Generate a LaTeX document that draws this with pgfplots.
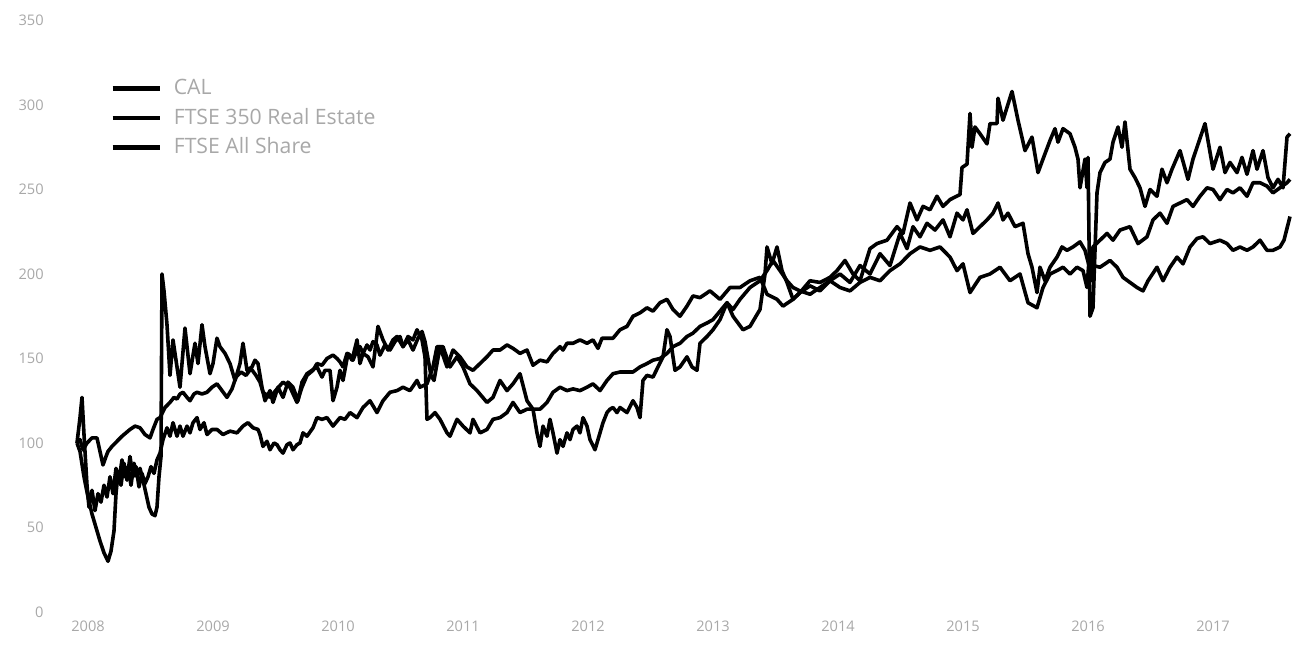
\documentclass[border=0pt]{standalone}
\usepackage{fontspec}
\setmainfont{Open Sans}
\usepackage{pgfplots}
\pgfplotsset{compat=1.18}
\definecolor{lbl}{gray}{0.66}
\begin{document}
\begin{tikzpicture}
\begin{axis}[
  scale only axis, width=616pt, height=295.75pt,
  xmin=2007.776, xmax=2017.632, ymin=0, ymax=350,
  axis line style={draw=none}, major tick length=0pt,
  xtick={2008,2009,2010,2011,2012,2013,2014,2015,2016,2017},
  xticklabels={2008,2009,2010,2011,2012,2013,2014,2015,2016,2017},
  ytick={0,50,100,150,200,250,300,350},
  yticklabels={0,50,100,150,200,250,300,350},
  x tick label style={anchor=north, inner sep=0pt, yshift=-4.5pt, font=\fontsize{7.3}{9}\selectfont, text=lbl},
  y tick label style={anchor=east, inner sep=0pt, xshift=-8pt, font=\fontsize{7.3}{9}\selectfont, text=lbl},
  legend style={at={(0.0406,0.907)}, anchor=north west, draw=none, fill=none, inner sep=0pt,
    font=\fontsize{10.6}{12}\selectfont, text=lbl, row sep=2.25pt,
    nodes={inner sep=1pt, text height=8.5pt, text depth=2pt},
    /tikz/every odd column/.append style={column sep=5pt}},
  legend cell align=left,
  legend image code/.code={\draw[line width=2.2pt, black] (0pt,0pt) -- (23.5pt,0pt);},
  ser/.style={black, mark=none, line width=1.8pt, line join=round},
]
% CAL
\addplot[ser] coordinates {
(2007.912,100)(2007.936,115)(2007.952,127)(2007.968,105)(2007.992,75)(2008.008,62)(2008.032,72)(2008.056,60)
(2008.080,70)(2008.104,65)(2008.128,75)(2008.152,68)(2008.176,80)(2008.2,70)(2008.224,85)(2008.248,78)
(2008.272,90)(2008.296,80)(2008.32,86)(2008.344,75)(2008.368,88)(2008.392,80)(2008.416,85)(2008.44,78)
(2008.464,70)(2008.488,62)(2008.512,58)(2008.536,57)(2008.552,62)(2008.568,80)(2008.584,92)(2008.592,200)
(2008.608,190)(2008.632,170)(2008.656,140)(2008.68,161)(2008.712,145)(2008.736,133)(2008.776,168)(2008.816,141)
(2008.856,159)(2008.88,147)(2008.912,170)(2008.936,157)(2008.976,141)(2009.0,147)(2009.032,162)(2009.056,157)
(2009.096,153)(2009.136,147)(2009.176,137)(2009.216,147)(2009.24,159)(2009.272,143)(2009.312,145)(2009.336,149)
(2009.36,147)(2009.392,133)(2009.416,125)(2009.456,131)(2009.48,124)(2009.52,133)(2009.56,127)(2009.6,136)
(2009.64,133)(2009.68,125)(2009.712,136)(2009.752,141)(2009.792,143)(2009.832,145)(2009.872,139)(2009.896,143)
(2009.936,143)(2009.96,125)(2009.992,133)(2010.016,143)(2010.04,137)(2010.08,153)(2010.112,149)(2010.152,161)
(2010.176,147)(2010.2,153)(2010.24,151)(2010.28,145)(2010.32,169)(2010.36,161)(2010.4,155)(2010.44,161)
(2010.472,163)(2010.52,157)(2010.56,163)(2010.6,161)(2010.632,167)(2010.672,161)(2010.696,151)(2010.712,114)
(2010.736,115)(2010.776,118)(2010.816,114)(2010.872,106)(2010.896,104)(2010.952,114)(2011.0,110)(2011.056,106)
(2011.08,114)(2011.136,106)(2011.192,108)(2011.24,114)(2011.296,115)(2011.352,118)(2011.4,124)(2011.456,118)
(2011.512,120)(2011.56,120)(2011.592,106)(2011.616,98)(2011.64,110)(2011.672,104)(2011.696,114)(2011.72,106)
(2011.752,94)(2011.776,102)(2011.8,98)(2011.832,106)(2011.856,102)(2011.88,108)(2011.912,110)(2011.936,106)
(2011.96,115)(2011.992,110)(2012.016,102)(2012.056,96)(2012.096,106)(2012.12,112)(2012.152,118)(2012.176,120)
(2012.2,121)(2012.232,118)(2012.256,121)(2012.312,118)(2012.36,125)(2012.392,121)(2012.416,115)(2012.44,137)
(2012.472,140)(2012.52,139)(2012.56,145)(2012.6,151)(2012.632,167)(2012.656,163)(2012.696,143)(2012.736,145)
(2012.792,151)(2012.832,145)(2012.872,143)(2012.896,159)(2012.952,163)(2013.0,167)(2013.056,173)(2013.112,183)
(2013.16,175)(2013.24,167)(2013.296,169)(2013.376,179)(2013.416,200)(2013.432,216)(2013.472,206)(2013.512,216)
(2013.552,202)(2013.592,195)(2013.64,185)(2013.696,189)(2013.776,196)(2013.856,195)(2013.936,198)(2013.992,202)
(2014.056,208)(2014.12,200)(2014.176,196)(2014.256,215)(2014.312,218)(2014.392,220)(2014.472,228)(2014.52,224)
(2014.576,242)(2014.632,232)(2014.68,240)(2014.736,238)(2014.792,246)(2014.84,240)(2014.896,244)(2014.976,247)
(2014.992,263)(2015.032,265)(2015.056,295)(2015.072,275)(2015.096,287)(2015.136,283)(2015.192,277)(2015.216,289)
(2015.272,289)(2015.28,304)(2015.32,291)(2015.392,308)(2015.44,291)(2015.496,273)(2015.552,281)(2015.6,260)
(2015.64,268)(2015.696,279)(2015.736,286)(2015.76,278)(2015.8,286)(2015.856,283)(2015.896,275)(2015.92,268)
(2015.936,251)(2015.976,268)(2015.992,251)(2016.0,269)(2016.016,175)(2016.04,180)(2016.072,248)(2016.096,260)
(2016.136,266)(2016.176,268)(2016.2,278)(2016.24,287)(2016.272,275)(2016.296,290)(2016.336,262)(2016.376,257)
(2016.416,251)(2016.456,240)(2016.496,250)(2016.552,246)(2016.592,262)(2016.632,254)(2016.672,262)(2016.736,273)
(2016.8,256)(2016.84,268)(2016.936,289)(2017.0,262)(2017.056,275)(2017.096,260)(2017.136,266)(2017.192,260)
(2017.232,269)(2017.272,259)(2017.32,273)(2017.352,262)(2017.4,273)(2017.44,257)(2017.48,251)(2017.52,256)
(2017.56,251)(2017.592,281)(2017.616,283)
};
\addlegendentry{CAL}
% FTSE 350 Real Estate
\addplot[ser] coordinates {
(2007.912,100)(2007.936,102)(2007.96,96)(2007.992,100)(2008.032,103)(2008.072,103)(2008.096,95)(2008.12,87)
(2008.144,92)(2008.16,95)(2008.192,98)(2008.232,101)(2008.272,104)(2008.304,106)(2008.336,108)(2008.376,110)
(2008.416,109)(2008.456,105)(2008.496,103)(2008.52,108)(2008.552,114)(2008.576,115)(2008.616,121)(2008.656,124)
(2008.688,127)(2008.712,126)(2008.736,129)(2008.76,130)(2008.792,127)(2008.816,125)(2008.848,129)(2008.872,130)
(2008.912,129)(2008.952,130)(2008.992,133)(2009.032,135)(2009.072,131)(2009.112,127)(2009.152,132)(2009.184,139)
(2009.224,142)(2009.264,140)(2009.304,144)(2009.344,140)(2009.376,136)(2009.4,130)(2009.456,127)(2009.512,132)
(2009.56,136)(2009.616,133)(2009.672,124)(2009.712,133)(2009.752,140)(2009.8,143)(2009.832,147)(2009.872,146)
(2009.912,150)(2009.96,152)(2009.992,150)(2010.016,148)(2010.04,145)(2010.072,153)(2010.096,152)(2010.12,149)
(2010.152,155)(2010.176,157)(2010.2,153)(2010.232,158)(2010.256,155)(2010.28,160)(2010.312,158)(2010.336,152)
(2010.376,158)(2010.416,155)(2010.456,160)(2010.496,163)(2010.52,157)(2010.56,161)(2010.6,155)(2010.64,162)
(2010.672,166)(2010.696,160)(2010.72,150)(2010.744,140)(2010.768,137)(2010.816,157)(2010.872,145)(2010.92,155)
(2010.976,151)(2011.032,145)(2011.08,143)(2011.136,147)(2011.192,151)(2011.24,155)(2011.296,155)(2011.352,158)
(2011.4,156)(2011.456,153)(2011.512,155)(2011.56,146)(2011.616,149)(2011.672,148)(2011.72,153)(2011.776,157)
(2011.8,155)(2011.832,159)(2011.88,159)(2011.936,161)(2011.992,159)(2012.04,161)(2012.08,156)(2012.112,162)
(2012.2,162)(2012.256,167)(2012.312,169)(2012.36,175)(2012.416,177)(2012.472,180)(2012.52,178)(2012.576,183)
(2012.632,185)(2012.68,179)(2012.736,175)(2012.792,181)(2012.84,187)(2012.896,186)(2012.976,190)(2013.056,185)
(2013.136,192)(2013.216,192)(2013.296,196)(2013.376,198)(2013.432,188)(2013.512,185)(2013.56,181)(2013.64,185)
(2013.696,189)(2013.776,193)(2013.856,190)(2013.936,196)(2014.016,200)(2014.096,195)(2014.176,205)(2014.256,200)
(2014.336,212)(2014.416,205)(2014.496,224)(2014.552,215)(2014.6,228)(2014.656,222)(2014.712,230)(2014.776,226)
(2014.84,232)(2014.896,222)(2014.952,236)(2015.0,232)(2015.032,238)(2015.08,224)(2015.136,228)(2015.192,232)
(2015.24,236)(2015.28,242)(2015.32,232)(2015.36,236)(2015.416,228)(2015.48,230)(2015.52,212)(2015.552,204)
(2015.592,189)(2015.616,204)(2015.656,196)(2015.696,204)(2015.752,210)(2015.792,216)(2015.832,214)(2015.88,216)
(2015.936,219)(2015.976,214)(2016.008,205)(2016.024,196)(2016.04,216)(2016.096,220)(2016.152,224)(2016.2,220)
(2016.256,226)(2016.336,228)(2016.4,218)(2016.472,222)(2016.52,232)(2016.576,236)(2016.632,230)(2016.68,240)
(2016.736,242)(2016.792,244)(2016.84,240)(2016.896,246)(2016.952,251)(2017.0,250)(2017.056,244)(2017.112,250)
(2017.16,248)(2017.216,251)(2017.272,246)(2017.32,254)(2017.376,254)(2017.432,252)(2017.48,248)(2017.536,251)
(2017.592,254)(2017.616,256)
};
\addlegendentry{FTSE 350 Real Estate}
% FTSE All Share
\addplot[ser] coordinates {
(2007.912,100)(2007.936,95)(2007.968,80)(2008.0,68)(2008.032,58)(2008.064,50)(2008.096,42)(2008.128,35)
(2008.16,30)(2008.184,36)(2008.208,48)(2008.224,70)(2008.24,82)(2008.264,75)(2008.288,88)(2008.312,78)
(2008.336,92)(2008.36,80)(2008.384,86)(2008.408,74)(2008.432,82)(2008.456,76)(2008.48,80)(2008.504,86)
(2008.528,82)(2008.552,90)(2008.576,94)(2008.6,102)(2008.632,109)(2008.656,104)(2008.68,112)(2008.712,104)
(2008.736,110)(2008.76,104)(2008.792,110)(2008.816,106)(2008.84,112)(2008.872,115)(2008.896,108)(2008.928,112)
(2008.952,105)(2008.992,108)(2009.032,108)(2009.08,105)(2009.136,107)(2009.192,106)(2009.24,110)(2009.28,112)
(2009.32,109)(2009.36,108)(2009.376,105)(2009.4,98)(2009.432,101)(2009.456,96)(2009.488,100)(2009.512,99)
(2009.536,96)(2009.56,94)(2009.592,99)(2009.616,100)(2009.64,96)(2009.672,99)(2009.696,100)(2009.72,106)
(2009.752,104)(2009.8,109)(2009.832,115)(2009.872,114)(2009.912,115)(2009.96,110)(2010.016,115)(2010.056,114)
(2010.096,118)(2010.152,115)(2010.2,121)(2010.256,125)(2010.312,118)(2010.36,125)(2010.416,130)(2010.472,131)
(2010.52,133)(2010.576,131)(2010.632,137)(2010.656,133)(2010.712,135)(2010.76,145)(2010.792,157)(2010.84,157)
(2010.896,145)(2010.952,151)(2011.0,145)(2011.056,135)(2011.112,131)(2011.192,124)(2011.24,127)(2011.296,137)
(2011.352,131)(2011.4,135)(2011.456,141)(2011.512,125)(2011.56,120)(2011.616,120)(2011.672,124)(2011.72,130)
(2011.776,133)(2011.832,131)(2011.88,132)(2011.936,131)(2011.992,133)(2012.04,135)(2012.096,131)(2012.152,137)
(2012.2,141)(2012.256,142)(2012.36,142)(2012.416,145)(2012.472,147)(2012.52,149)(2012.576,150)(2012.632,153)
(2012.68,157)(2012.736,159)(2012.792,163)(2012.84,165)(2012.896,169)(2012.952,171)(2013.0,173)(2013.056,178)
(2013.112,183)(2013.16,179)(2013.216,185)(2013.296,192)(2013.376,196)(2013.432,202)(2013.48,208)(2013.536,202)
(2013.592,196)(2013.64,192)(2013.696,190)(2013.776,188)(2013.856,192)(2013.936,196)(2014.016,192)(2014.096,190)
(2014.176,195)(2014.256,198)(2014.336,196)(2014.416,202)(2014.496,206)(2014.576,212)(2014.656,216)(2014.736,214)
(2014.816,216)(2014.896,210)(2014.952,202)(2015.0,206)(2015.056,189)(2015.136,198)(2015.216,200)(2015.296,204)
(2015.376,196)(2015.456,200)(2015.52,183)(2015.592,180)(2015.64,192)(2015.696,200)(2015.752,202)(2015.8,204)
(2015.856,200)(2015.912,204)(2015.96,202)(2015.992,192)(2016.008,208)(2016.04,205)(2016.096,204)(2016.176,208)
(2016.232,204)(2016.28,198)(2016.336,195)(2016.392,192)(2016.44,190)(2016.48,196)(2016.552,204)(2016.6,196)
(2016.656,204)(2016.712,210)(2016.76,206)(2016.816,216)(2016.872,221)(2016.92,222)(2016.976,218)(2017.056,220)
(2017.112,218)(2017.16,214)(2017.216,216)(2017.272,214)(2017.32,216)(2017.376,220)(2017.432,214)(2017.48,214)
(2017.536,216)(2017.568,220)(2017.616,234)
};
\addlegendentry{FTSE All Share}
\end{axis}
\pgfresetboundingbox
\path[use as bounding box] ([xshift=-30pt,yshift=-16.5pt]current axis.south west) rectangle ([yshift=10.25pt]current axis.north east);
\end{tikzpicture}
\end{document}
